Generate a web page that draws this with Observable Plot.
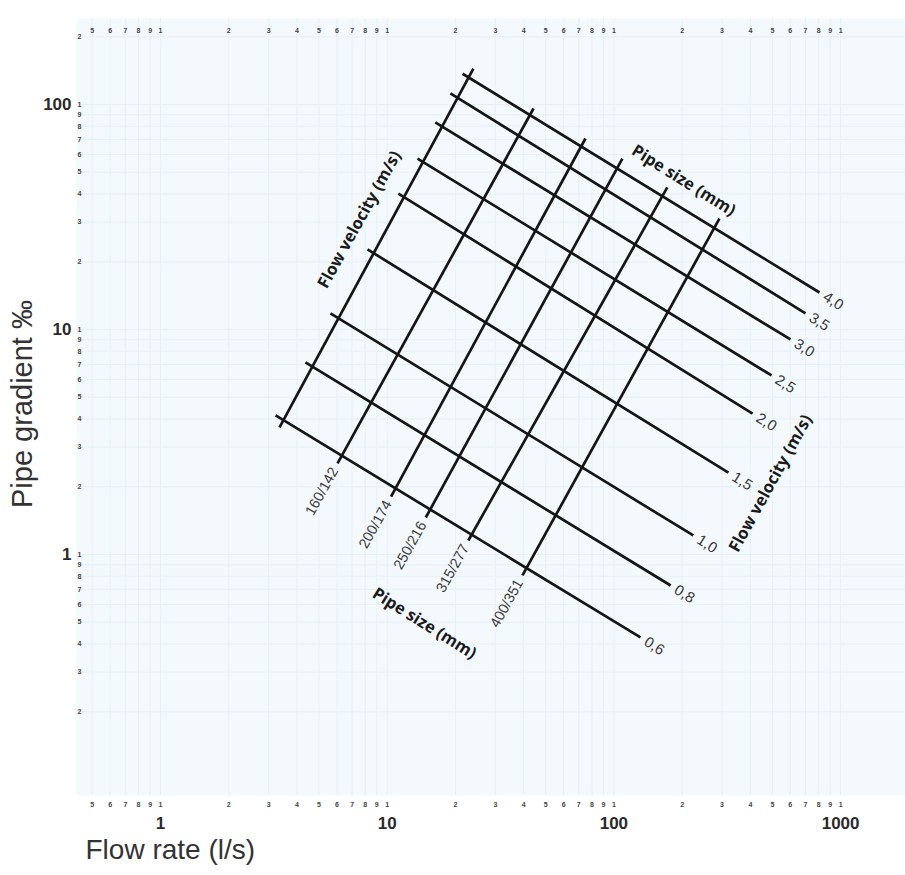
<!DOCTYPE html>
<html><head><meta charset="utf-8">
<script src="https://cdn.jsdelivr.net/npm/d3@7"></script>
<script src="https://cdn.jsdelivr.net/npm/@observablehq/plot@0.6"></script>
<style>html,body{margin:0;padding:0;background:#fff;} svg{display:block}</style>
</head><body><div id="chart"></div>
<script>
// Flow velocity lines (m/s): start (left-top) and end (right-bottom)
const velocityLabels = ["4,0","3,5","3,0","2,5","2,0","1,5","1,0","0,8","0,6"];
const velocityStartQ = [21.5, 19.0, 16.3, 13.6, 11.2, 8.19, 5.62, 4.36, 3.22];
const velocityStartI = [137, 112, 83.2, 57.5, 40.2, 22.7, 11.8, 7.14, 4.15];
const velocityEndQ   = [807, 700, 601, 496, 409, 320, 224, 178, 131];
const velocityEndI   = [14.6, 11.8, 9.03, 6.25, 4.23, 2.31, 1.215, 0.728, 0.428];

// Pipe size lines (mm): start (bottom) and end (top)
const pipeLabels = ["", "160/142", "200/174", "250/216", "315/277", "400/351"];
const pipeStartQ = [3.35, 6.04, 10.4, 14.8, 22.8, 39.5];
const pipeStartI = [3.67, 2.54, 1.81, 1.46, 1.154, 0.807];
const pipeEndQ   = [24.0, 44.2, 74.9, 109, 172, 292];
const pipeEndI   = [144.5, 96.0, 70.6, 57.5, 42.8, 31.1];

// Tick labels
const xMajorTicks = [1, 10, 100, 1000];
const yMajorTicks = [1, 10, 100];
const xMinorTicks = [0.5,0.6,0.7,0.8,0.9,1,2,3,4,5,6,7,8,9,10,20,30,40,50,60,70,80,90,100,200,300,400,500,600,700,800,900,1000];
const yMinorTicks = [0.2,0.3,0.4,0.5,0.6,0.7,0.8,0.9,1,2,3,4,5,6,7,8,9,10,20,30,40,50,60,70,80,90,100,200];

const velocity = velocityLabels.map((label, k) => ({label, q1: velocityStartQ[k], i1: velocityStartI[k], q2: velocityEndQ[k], i2: velocityEndI[k]}));
const pipes = pipeLabels.map((label, k) => ({label, q1: pipeStartQ[k], i1: pipeStartI[k], q2: pipeEndQ[k], i2: pipeEndI[k]}));

const W = 905, H = 875;
const mL = 76, mR = 0, mT = 18, mB = 80;
// calibration: x(1) at 160px with 226.7 px per decade; y(100) at 104px with 225 px per decade
const xDomain = [10 ** ((mL - 160) / 226.7), 10 ** ((W - mR - 160) / 226.7)];
const yDomain = [10 ** (2 - (H - mB - 104) / 225), 10 ** (2 + (104 - mT) / 225)];

const lead = d => String(Math.round(d / 10 ** Math.floor(Math.log10(d) + 1e-9)));
const LINE = "#151515";
const LAB = "#3a3a3a";
const sans = "Liberation Sans, Arial, sans-serif";
const bold = "Open Sans, Noto Sans, sans-serif";

const chart = Plot.plot({
  width: W, height: H,
  marginLeft: mL, marginRight: mR, marginTop: mT, marginBottom: mB,
  x: {type: "log", domain: xDomain, axis: null},
  y: {type: "log", domain: yDomain, axis: null},
  style: {background: "#fff"},
  marks: [
    Plot.frame({fill: "#f3f9fc", stroke: "none"}),
    Plot.ruleX(xMinorTicks, {stroke: "#e6f1f7", strokeWidth: 1}),
    Plot.ruleY(yMinorTicks, {stroke: "#e6f1f7", strokeWidth: 1}),
    // nomogram lines
    Plot.link(velocity, {x1: "q1", y1: "i1", x2: "q2", y2: "i2", stroke: LINE, strokeWidth: 2.7}),
    Plot.link(pipes, {x1: "q1", y1: "i1", x2: "q2", y2: "i2", stroke: LINE, strokeWidth: 2.7}),
    // velocity value labels
    Plot.text(velocity, {x: "q2", y: "i2", text: "label", rotate: 32, textAnchor: "start", dx: 5, dy: 3,
      fontSize: 15, fill: LAB, fontFamily: sans}),
    // pipe size labels
    Plot.text(pipes.filter(d => d.label), {x: "q1", y: "i1", text: "label", rotate: -61, textAnchor: "end", dx: -3, dy: 5,
      fontSize: 14.5, fill: LAB, fontFamily: sans}),
    // nomogram titles
    Plot.text(["Pipe size (mm)"], {x: 203, y: 45.9, rotate: 32, fontSize: 16.5, fontWeight: 700, fill: "#1a1a1a", fontFamily: bold}),
    Plot.text(["Pipe size (mm)"], {x: 14.6, y: 0.4935, rotate: 32, fontSize: 16.5, fontWeight: 700, fill: "#1a1a1a", fontFamily: bold}),
    Plot.text(["Flow velocity (m/s)"], {x: 7.55, y: 30.8, rotate: -61, fontSize: 16.5, fontWeight: 700, fill: "#1a1a1a", fontFamily: bold}),
    Plot.text(["Flow velocity (m/s)"], {x: 491, y: 2.07, rotate: -61, fontSize: 16.5, fontWeight: 700, fill: "#1a1a1a", fontFamily: bold}),
    // minor tick digits (x top and bottom rows, y left column)
    Plot.text(xMinorTicks, {x: d => d, frameAnchor: "top", dy: 10, text: lead, fontSize: 7, fontWeight: 700, fill: "#444", fontFamily: sans}),
    Plot.text(xMinorTicks, {x: d => d, frameAnchor: "bottom", dy: 11, text: lead, fontSize: 7, fontWeight: 700, fill: "#444", fontFamily: sans}),
    Plot.text(yMinorTicks, {y: d => d, frameAnchor: "left", dx: 3, textAnchor: "middle", text: lead, fontSize: 7, fontWeight: 700, fill: "#444", fontFamily: sans}),
    // major tick labels
    Plot.text(xMajorTicks, {x: d => d, frameAnchor: "bottom", dy: 33, text: d => String(d), fontSize: 17, fontWeight: 700, fill: "#2a2a2a", fontFamily: sans}),
    Plot.text(yMajorTicks, {y: d => d, frameAnchor: "left", dx: -5, textAnchor: "end", text: d => String(d), fontSize: 17, fontWeight: 700, fill: "#2a2a2a", fontFamily: sans}),
    // axis titles
    Plot.text(["Flow rate (l/s)"], {frameAnchor: "bottom-left", dx: 9, dy: 63, textAnchor: "start", fontSize: 28, fill: "#333", fontFamily: sans}),
    Plot.text(["Pipe gradient \u2030"], {frameAnchor: "left", dx: -54, dy: -3, rotate: -90, textAnchor: "middle", fontSize: 29, fill: "#333", fontFamily: sans})
  ]
});
document.getElementById("chart").appendChild(chart);
</script>
</body></html>
